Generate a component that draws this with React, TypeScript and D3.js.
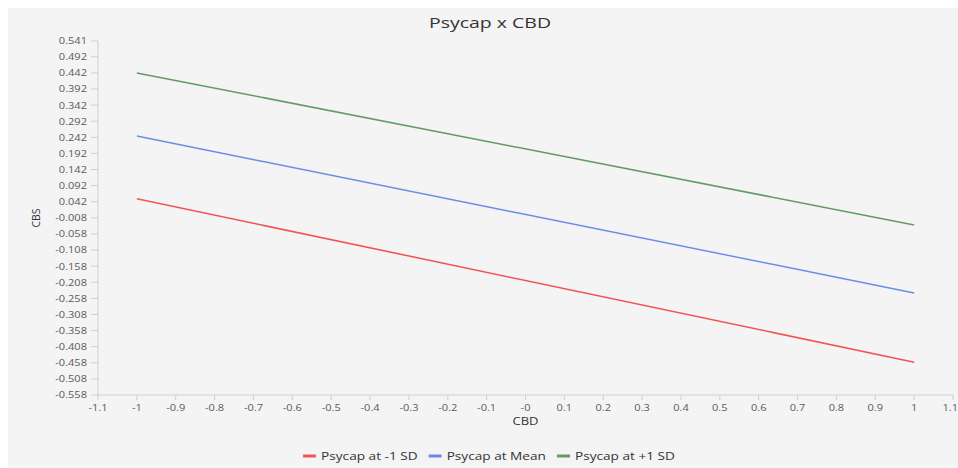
import { useEffect, useRef } from 'react';
import * as d3 from 'd3';

const cbd = [-1, 1];
const seriesNames = ['Psycap at -1 SD', 'Psycap at Mean', 'Psycap at +1 SD'];
const lowValues = [0.051, -0.456];
const meanValues = [0.246, -0.241];
const highValues = [0.442, -0.03];
const seriesColors = ['#f05454', '#6b8ce6', '#649a64'];

const xTickLabels = ['-1.1', '-1', '-0.9', '-0.8', '-0.7', '-0.6', '-0.5', '-0.4', '-0.3', '-0.2', '-0.1', '-0',
  '0.1', '0.2', '0.3', '0.4', '0.5', '0.6', '0.7', '0.8', '0.9', '1', '1.1'];
const yTickLabels = ['-0.558', '-0.508', '-0.458', '-0.408', '-0.358', '-0.308', '-0.258', '-0.208', '-0.158',
  '-0.108', '-0.058', '-0.008', '0.042', '0.092', '0.142', '0.192', '0.242', '0.292', '0.342', '0.392',
  '0.442', '0.492', '0.541'];

const W = 950;
const H = 460;
const SX = 1.3; // text in the reference is stretched horizontally
const FONT = '"Open Sans", "Noto Sans", sans-serif';

export default function App() {
  const svgRef = useRef<SVGSVGElement>(null);

  useEffect(() => {
    const svg = d3.select(svgRef.current);
    svg.selectAll('*').remove();

    const margin = { top: 33, right: 5, bottom: 73, left: 90 };
    const x = d3.scaleLinear().domain([-1.1, 1.1]).range([margin.left, W - margin.right]);
    const y = d3
      .scaleLinear()
      .domain([+yTickLabels[0], +yTickLabels[yTickLabels.length - 1]])
      .range([H - margin.bottom, margin.top]);

    svg.append('rect').attr('width', W).attr('height', H).attr('fill', '#f4f4f4');

    const addText = (g, tx, ty, str, opts: any = {}) => {
      return g
        .append('text')
        .attr('transform', `translate(${tx},${ty}) ${opts.rotate ? `rotate(${opts.rotate})` : ''} scale(${opts.rotate ? 1 : SX},1)`)
        .attr('text-anchor', opts.anchor || 'middle')
        .attr('dominant-baseline', opts.baseline || 'auto')
        .attr('font-family', FONT)
        .attr('font-size', opts.size || 8.5)
        .attr('fill', opts.fill || '#5a5a5a')
        .text(str);
    };

    // y axis
    const yAxis = svg.append('g');
    yAxis
      .append('line')
      .attr('x1', x.range()[0])
      .attr('x2', x.range()[0])
      .attr('y1', y.range()[1])
      .attr('y2', y.range()[0])
      .attr('stroke', '#cfcfcf');
    yTickLabels.forEach(t => {
      const ty = y(+t);
      yAxis
        .append('line')
        .attr('x1', x.range()[0] - 7)
        .attr('x2', x.range()[0])
        .attr('y1', ty)
        .attr('y2', ty)
        .attr('stroke', '#cfcfcf');
      addText(yAxis, x.range()[0] - 11, ty, t, { anchor: 'end', baseline: 'central' });
    });

    // x axis
    const xAxis = svg.append('g');
    xAxis
      .append('line')
      .attr('x1', x.range()[0])
      .attr('x2', x.range()[1])
      .attr('y1', y.range()[0])
      .attr('y2', y.range()[0])
      .attr('stroke', '#cfcfcf');
    xTickLabels.forEach((t, i) => {
      const tx = x(+t);
      xAxis
        .append('line')
        .attr('x1', tx)
        .attr('x2', tx)
        .attr('y1', y.range()[0])
        .attr('y2', y.range()[0] + 5)
        .attr('stroke', '#cfcfcf');
      const last = i === xTickLabels.length - 1;
      addText(xAxis, last ? W : tx, y.range()[0] + 16, t, { anchor: last ? 'end' : 'middle' });
    });

    // lines
    const allSeries = [lowValues, meanValues, highValues];
    const line = d3
      .line<number>()
      .x((d, i) => x(cbd[i]))
      .y(d => y(d));
    allSeries.forEach((vals, i) => {
      svg
        .append('path')
        .datum(vals)
        .attr('d', line)
        .attr('fill', 'none')
        .attr('stroke', seriesColors[i])
        .attr('stroke-width', 1.5);
    });

    // titles
    addText(svg, 482, 20, 'Psycap x CBD', { size: 15, fill: '#333' });
    addText(svg, (x.range()[0] + x.range()[1]) / 2, 417, 'CBD', { size: 10, fill: '#333' });
    addText(svg, 32, (y.range()[0] + y.range()[1]) / 2, 'CBS', { size: 10.5, fill: '#333', rotate: -90 });

    // legend
    const legend = svg.append('g');
    const items = seriesNames.map((name, i) => {
      const g = legend.append('g');
      g.append('line')
        .attr('x1', 0)
        .attr('x2', 13)
        .attr('y1', 0)
        .attr('y2', 0)
        .attr('stroke', seriesColors[i])
        .attr('stroke-width', 3);
      const txt = addText(g, 18, 0, name, { anchor: 'start', baseline: 'central', size: 10.5, fill: '#333' });
      const w = 18 + (txt.node() as SVGTextElement).getComputedTextLength() * SX;
      return { g, w };
    });
    const gap = 11;
    const total = d3.sum(items, d => d.w) + gap * (items.length - 1);
    let cx = 481 - total / 2;
    items.forEach(it => {
      it.g.attr('transform', `translate(${cx},448)`);
      cx += it.w + gap;
    });
  }, []);

  return (
    <div style={{ position: 'fixed', left: 8, top: 8, width: W, height: H, overflow: 'hidden' }}>
      <svg ref={svgRef} width={W} height={H} style={{ display: 'block' }}></svg>
    </div>
  );
}
